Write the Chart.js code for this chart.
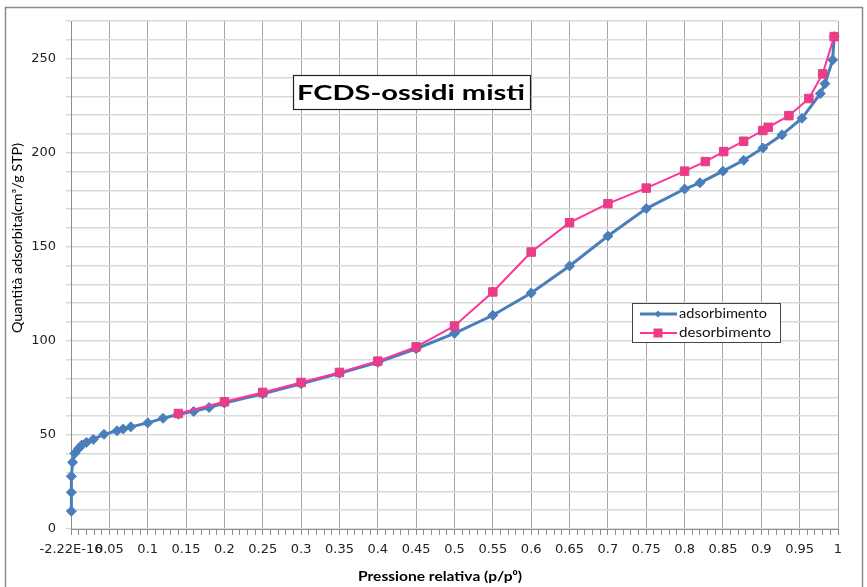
<!DOCTYPE html>
<html>
<head>
<meta charset="utf-8">
<script src="https://cdn.jsdelivr.net/npm/chart.js@4.4.1/dist/chart.umd.min.js"></script>
<style>
  html, body { margin: 0; padding: 0; background: #fff; }
</style>
</head>
<body>
<canvas id="isoterma" width="867" height="587"></canvas>
<script>
// isoterma di adsorbimento/desorbimento

var chartTitle = 'FCDS-ossidi misti';
var xTitle = 'Pressione relativa (p/p\u2070)';
var yTitle = 'Quantità adsorbita(cm\u00b3/g STP)';

var adsLabel = 'adsorbimento';
var adsX = [0.0005, 0.0005, 0.0005, 0.002, 0.005, 0.01, 0.014, 0.02, 0.029, 0.043, 0.06, 0.068, 0.078, 0.1, 0.12, 0.14, 0.16, 0.18, 0.2, 0.25, 0.3, 0.35, 0.4, 0.45, 0.5, 0.55, 0.6, 0.65, 0.7, 0.75, 0.8, 0.82, 0.85, 0.877, 0.902, 0.927, 0.953, 0.977, 0.983, 0.993, 0.995];
var adsY = [9.5, 19.5, 28, 35.5, 40.2, 42.8, 44.6, 46, 47.6, 50.3, 52.2, 53.1, 54.3, 56.4, 58.8, 61, 62.5, 64.6, 67, 71.8, 77.2, 82.8, 88.6, 95.8, 104, 113.6, 125.4, 139.8, 155.7, 170.3, 180.7, 184, 190.2, 196, 202.5, 209.5, 218.3, 231.4, 236.7, 249.3, 261.7];

var desLabel = 'desorbimento';
var desX = [0.14, 0.2, 0.25, 0.3, 0.35, 0.4, 0.45, 0.5, 0.55, 0.6, 0.65, 0.7, 0.75, 0.8, 0.827, 0.851, 0.877, 0.902, 0.909, 0.936, 0.962, 0.98, 0.995];
var desY = [61.4, 67.6, 72.6, 77.9, 83.2, 89.2, 96.8, 107.9, 126, 147.2, 162.8, 172.9, 181.2, 190.2, 195.3, 200.6, 206.1, 211.8, 213.5, 219.7, 228.8, 241.9, 261.7];

var xTickLabels = { 0: '-2.22E-16' };

function toPoints(xs, ys) {
  var pts = [];
  for (var i = 0; i < xs.length; i++) pts.push({ x: xs[i], y: ys[i] });
  return pts;
}

function isMajorX(v) {
  return Math.abs(v * 20 - Math.round(v * 20)) < 1e-6;
}

// write text squeezed/stretched to a given width (the excel picture is stretched)
function fitText(ctx, txt, x, y, w) {
  var m = ctx.measureText(txt).width;
  ctx.save();
  ctx.translate(x, y);
  ctx.scale(w / m, 1);
  ctx.fillText(txt, 0, 0);
  ctx.restore();
}

// frame, title box, legend and axis titles drawn like the excel sheet
var extras = {
  id: 'extras',
  afterDraw: function (chart) {
    var ctx = chart.ctx;
    ctx.save();

    // outer frame
    ctx.strokeStyle = '#8c8c8c';
    ctx.lineWidth = 1.5;
    ctx.strokeRect(5.5, 7.5, 857, 600);

    // title box
    ctx.fillStyle = '#fff';
    ctx.fillRect(293.5, 75.5, 237, 34);
    ctx.strokeStyle = '#222';
    ctx.lineWidth = 1.2;
    ctx.strokeRect(293.5, 75.5, 237, 34);
    ctx.fillStyle = '#000';
    ctx.textAlign = 'center';
    ctx.textBaseline = 'middle';
    ctx.font = 'bold 21px Lato';
    fitText(ctx, chartTitle, 411, 93, 228);

    // legend
    ctx.fillStyle = '#fff';
    ctx.fillRect(632.5, 303.5, 148, 39);
    ctx.strokeStyle = '#444';
    ctx.lineWidth = 1;
    ctx.strokeRect(632.5, 303.5, 148, 39);
    var ds = chart.data.datasets;
    var rows = [314, 333];
    for (var i = 0; i < ds.length; i++) {
      var y = rows[i];
      ctx.strokeStyle = ds[i].borderColor;
      ctx.lineWidth = ds[i].borderWidth;
      ctx.beginPath();
      ctx.moveTo(640, y);
      ctx.lineTo(677, y);
      ctx.stroke();
      ctx.fillStyle = ds[i].pointBackgroundColor;
      if (ds[i].pointStyle === 'rectRot') {
        ctx.beginPath();
        ctx.moveTo(658, y - 3.5);
        ctx.lineTo(661.5, y);
        ctx.lineTo(658, y + 3.5);
        ctx.lineTo(654.5, y);
        ctx.closePath();
        ctx.fill();
      } else {
        ctx.fillRect(653.5, y - 4.5, 9, 9);
      }
      ctx.fillStyle = '#111';
      ctx.font = '13px Lato';
      ctx.textAlign = 'left';
      fitText(ctx, ds[i].label, 679, y, i === 0 ? 88 : 92);
    }

    // axis titles
    ctx.fillStyle = '#000';
    ctx.textAlign = 'center';
    ctx.font = 'bold 13px Lato';
    fitText(ctx, xTitle, 440, 577, 164);

    ctx.translate(18, 238);
    ctx.rotate(-Math.PI / 2);
    ctx.font = '13px Lato';
    fitText(ctx, yTitle, 0, 0, 190);
    ctx.restore();
  }
};

new Chart(document.getElementById('isoterma'), {
  type: 'line',
  data: {
    datasets: [
      {
        label: adsLabel,
        data: toPoints(adsX, adsY),
        borderColor: '#4a7ebb',
        backgroundColor: '#4a7ebb',
        pointBackgroundColor: '#4a7ebb',
        pointBorderColor: '#4a7ebb',
        borderWidth: 3,
        pointStyle: 'rectRot',
        pointRadius: 5,
        pointBorderWidth: 1,
        tension: 0,
        clip: 10,
        order: 1
      },
      {
        label: desLabel,
        data: toPoints(desX, desY),
        borderColor: '#ff3399',
        backgroundColor: '#ef3a8c',
        pointBackgroundColor: '#ef3a8c',
        pointBorderColor: '#d9457f',
        borderWidth: 2,
        pointStyle: 'rect',
        pointRadius: 6,
        pointBorderWidth: 1,
        tension: 0,
        clip: 10,
        order: 0
      }
    ]
  },
  options: {
    responsive: false,
    animation: false,
    layout: { padding: { top: 21, right: 29, left: 0, bottom: 0 } },
    plugins: {
      legend: { display: false },
      tooltip: { enabled: false },
      title: { display: false }
    },
    scales: {
      x: {
        type: 'linear',
        min: 0,
        max: 1,
        afterFit: function (scale) { scale.height = 58; },
        border: { color: '#8c8c8c', width: 1 },
        grid: {
          color: function (c) { return isMajorX(c.tick.value) ? '#a6a6a6' : 'rgba(0,0,0,0)'; },
          tickColor: '#8c8c8c',
          tickLength: 6,
          lineWidth: 1
        },
        ticks: {
          stepSize: 0.01,
          autoSkip: false,
          maxRotation: 0,
          padding: 7,
          color: '#222',
          font: { family: 'DejaVu Sans', size: 13 },
          callback: function (v) {
            if (!isMajorX(v)) return '';
            var r = Math.round(v * 100) / 100;
            if (xTickLabels[r] !== undefined) return xTickLabels[r];
            return String(r);
          }
        }
      },
      y: {
        type: 'linear',
        min: 0,
        max: 270,
        afterFit: function (scale) { scale.width = 71; },
        border: { color: '#8c8c8c', width: 1 },
        grid: {
          color: '#d9d9d9',
          lineWidth: 1.5,
          tickLength: 5
        },
        ticks: {
          stepSize: 10,
          autoSkip: false,
          padding: 10,
          color: '#222',
          font: { family: 'DejaVu Sans', size: 13 },
          callback: function (v) { return v % 50 === 0 ? String(v) : ''; }
        }
      }
    }
  },
  plugins: [extras]
});
</script>
</body>
</html>
